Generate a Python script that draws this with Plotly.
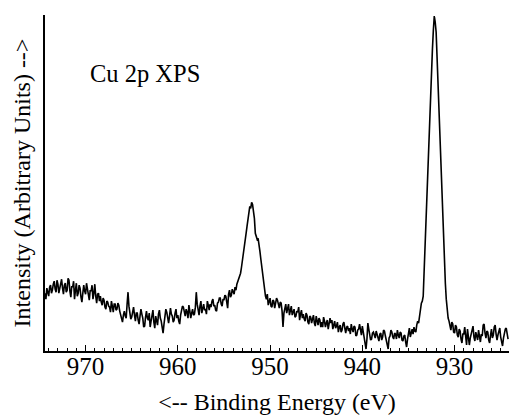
import numpy as np
import plotly.graph_objects as go

# Binding energy grid (eV), sampled every 0.1 eV from 974.4 down to 924.2
energy_start = 974.4
energy_step = -0.1

# Intensity (arbitrary units), 10 points per eV
intensity = [
    58, 52, 63, 57, 55, 64, 66, 58, 61, 67,
    70, 62, 59, 71, 67, 58, 62, 69, 72, 63,
    57, 66, 68, 59, 61, 73, 71, 60, 54, 65,
    64, 70, 52, 61, 68, 55, 58, 66, 63, 54,
    49, 58, 66, 60, 57, 68, 62, 53, 51, 61,
    60, 66, 52, 58, 67, 55, 48, 57, 58, 50,
    55, 49, 46, 53, 51, 44, 42, 50, 49, 45,
    44, 39, 50, 45, 39, 47, 47, 41, 42, 48,
    46, 40, 37, 33, 29, 36, 40, 35, 33, 47,
    59, 45, 40, 32, 34, 41, 44, 36, 30, 38,
    38, 31, 27, 35, 42, 37, 33, 24, 25, 34,
    40, 33, 31, 38, 24, 30, 37, 41, 29, 23,
    35, 28, 26, 37, 41, 33, 30, 24, 18, 27,
    33, 42, 39, 30, 28, 35, 43, 37, 35, 29,
    31, 38, 42, 33, 36, 30, 27, 36, 40, 45,
    44, 37, 35, 42, 39, 33, 46, 40, 33, 38,
    42, 36, 37, 44, 59, 47, 40, 36, 45, 50,
    38, 44, 47, 41, 42, 37, 50, 46, 41, 47,
    44, 50, 52, 45, 46, 41, 40, 48, 49, 53,
    53, 47, 45, 52, 51, 56, 55, 49, 43, 57,
    61, 54, 56, 62, 60, 57, 64, 61, 67, 70,
    72, 75, 78, 84, 90, 97, 104, 112, 118, 125,
    132, 140, 145, 143, 149, 147, 140, 133, 118, 115,
    112, 113, 108, 100, 92, 84, 76, 66, 60, 55,
    52, 57, 46, 50, 53, 45, 44, 51, 50, 43,
    47, 53, 51, 45, 43, 49, 48, 40, 24, 38,
    44, 47, 38, 42, 47, 36, 40, 45, 36, 39,
    42, 34, 35, 40, 39, 44, 31, 37, 41, 33,
    37, 32, 30, 38, 36, 29, 27, 35, 34, 28,
    33, 36, 28, 25, 35, 31, 26, 33, 31, 24,
    29, 24, 34, 30, 24, 28, 31, 22, 27, 33,
    28, 31, 22, 25, 30, 23, 25, 29, 19, 24,
    26, 19, 21, 27, 29, 23, 18, 24, 25, 20,
    23, 17, 27, 22, 19, 25, 24, 15, 16, 21,
    22, 27, 18, 16, 25, 19, 14, 6, 2, 12,
    28, 22, 17, 11, 12, 18, 19, 14, 13, 20,
    16, 12, 10, 17, 18, 11, 14, 21, 20, 15,
    11, 6, 2, 13, 15, 21, 19, 14, 12, 18,
    17, 12, 21, 16, 13, 19, 18, 11, 10, 15,
    16, 9, 4, 12, 19, 23, 14, 18, 22, 17,
    24, 20, 19, 26, 30, 28, 36, 42, 48, 50,
    55, 80, 107, 131, 156, 180, 204, 229, 254, 279,
    303, 322, 336, 330, 320, 295, 268, 242, 216, 191,
    166, 142, 118, 93, 68, 52, 38, 33, 30, 24,
    21, 29, 27, 19, 18, 26, 24, 16, 14, 22,
    20, 12, 8, 17, 17, 24, 12, 6, 22, 15,
    6, 13, 18, 23, 25, 14, 10, 19, 16, 11,
    21, 15, 9, 17, 15, 26, 27, 18, 13, 20,
    19, 11, 8, 16, 22, 13, 16, 24, 26, 17,
    11, 16, 20, 23, 14, 9, 5, 13, 18, 22,
    23, 17, 12,
]
energy = np.round(energy_start + energy_step * np.arange(len(intensity)), 2)

x_ticks = [970, 960, 950, 940, 930]
x_range = [974.4, 924.1]
y_range = [0, 337]

serif = "Liberation Serif"

fig = go.Figure()
fig.add_trace(go.Scatter(
    x=energy, y=intensity, mode="lines",
    line=dict(color="black", width=1.6),
    showlegend=False, hoverinfo="skip",
))

fig.update_layout(
    width=509, height=415,
    margin=dict(l=45, r=0, t=15, b=64),
    paper_bgcolor="white", plot_bgcolor="white",
    font=dict(family=serif, color="black", size=24),
    annotations=[dict(
        text="Cu 2p XPS", x=0.2155, y=0.827, xref="paper", yref="paper",
        showarrow=False, xanchor="center", yanchor="middle",
        font=dict(family=serif, size=24.5, color="black"),
    )],
)

fig.update_xaxes(
    range=x_range, tickvals=x_ticks, ticktext=[str(v) for v in x_ticks],
    showline=True, linecolor="black", linewidth=1.5, mirror=False,
    ticks="inside", ticklen=6, tickwidth=1.2, tickcolor="black",
    minor=dict(dtick=1, tick0=930, ticks="inside", ticklen=3, tickwidth=1, tickcolor="black"),
    showgrid=False, zeroline=False,
    tickfont=dict(family=serif, size=25, color="black"),
    ticklabelstandoff=-8,
    title=dict(text="<-- Binding Energy (eV)", font=dict(family=serif, size=24, color="black"), standoff=14),
)
fig.update_yaxes(
    range=y_range, showticklabels=False, ticks="",
    showline=True, linecolor="black", linewidth=1.5,
    showgrid=False, zeroline=False,
    title=dict(text="Intensity (Arbitrary Units) -->", font=dict(family=serif, size=24, color="black"), standoff=6),
)

fig.write_html("out.html")
